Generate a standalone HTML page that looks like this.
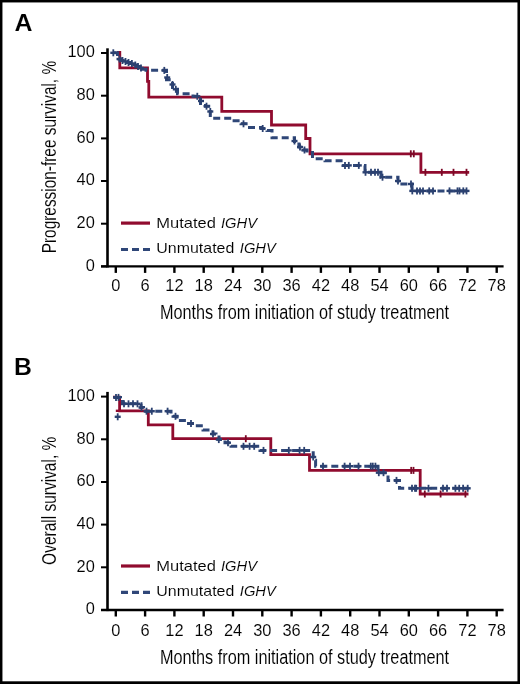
<!DOCTYPE html>
<html><head><meta charset="utf-8"><style>
html,body{margin:0;padding:0;background:#fff;}
svg{display:block;will-change:transform;}
text{font-family:"Liberation Sans", sans-serif;fill:#000;stroke:#fff;stroke-width:0.1px;}
.tl{font-size:16.4px;stroke-width:0.1px;}
.ttl{font-size:20px;}
.lg{font-size:15px;}
.let{font-size:23.6px;font-weight:bold;fill:#000;}
</style></head><body>
<svg width="520" height="684" viewBox="0 0 520 684">
<rect x="0" y="0" width="520" height="684" fill="#000"/>
<rect x="2.45" y="2.45" width="515.0" height="678.85" fill="#fff"/>
<line x1="107.5" y1="48.3" x2="107.5" y2="267.5" stroke="#000" stroke-width="2.6"/>
<line x1="101" y1="266.4" x2="503.6" y2="266.4" stroke="#000" stroke-width="2.3"/>
<line x1="101" y1="266.4" x2="107" y2="266.4" stroke="#000" stroke-width="2"/>
<text x="94.8" y="270.6" text-anchor="end" class="tl">0</text>
<line x1="101" y1="223.7" x2="107" y2="223.7" stroke="#000" stroke-width="2"/>
<text x="94.8" y="227.9" text-anchor="end" class="tl">20</text>
<line x1="101" y1="181.0" x2="107" y2="181.0" stroke="#000" stroke-width="2"/>
<text x="94.8" y="185.2" text-anchor="end" class="tl">40</text>
<line x1="101" y1="138.4" x2="107" y2="138.4" stroke="#000" stroke-width="2"/>
<text x="94.8" y="142.6" text-anchor="end" class="tl">60</text>
<line x1="101" y1="95.7" x2="107" y2="95.7" stroke="#000" stroke-width="2"/>
<text x="94.8" y="99.9" text-anchor="end" class="tl">80</text>
<line x1="101" y1="53.0" x2="107" y2="53.0" stroke="#000" stroke-width="2"/>
<text x="94.8" y="57.2" text-anchor="end" class="tl">100</text>
<line x1="115.80" y1="266.4" x2="115.80" y2="272.9" stroke="#000" stroke-width="2.4"/>
<text x="115.80" y="290.8" text-anchor="middle" class="tl">0</text>
<line x1="145.10" y1="266.4" x2="145.10" y2="272.9" stroke="#000" stroke-width="2.4"/>
<text x="145.10" y="290.8" text-anchor="middle" class="tl">6</text>
<line x1="174.40" y1="266.4" x2="174.40" y2="272.9" stroke="#000" stroke-width="2.4"/>
<text x="174.40" y="290.8" text-anchor="middle" class="tl">12</text>
<line x1="203.70" y1="266.4" x2="203.70" y2="272.9" stroke="#000" stroke-width="2.4"/>
<text x="203.70" y="290.8" text-anchor="middle" class="tl">18</text>
<line x1="233.00" y1="266.4" x2="233.00" y2="272.9" stroke="#000" stroke-width="2.4"/>
<text x="233.00" y="290.8" text-anchor="middle" class="tl">24</text>
<line x1="262.30" y1="266.4" x2="262.30" y2="272.9" stroke="#000" stroke-width="2.4"/>
<text x="262.30" y="290.8" text-anchor="middle" class="tl">30</text>
<line x1="291.60" y1="266.4" x2="291.60" y2="272.9" stroke="#000" stroke-width="2.4"/>
<text x="291.60" y="290.8" text-anchor="middle" class="tl">36</text>
<line x1="320.90" y1="266.4" x2="320.90" y2="272.9" stroke="#000" stroke-width="2.4"/>
<text x="320.90" y="290.8" text-anchor="middle" class="tl">42</text>
<line x1="350.20" y1="266.4" x2="350.20" y2="272.9" stroke="#000" stroke-width="2.4"/>
<text x="350.20" y="290.8" text-anchor="middle" class="tl">48</text>
<line x1="379.50" y1="266.4" x2="379.50" y2="272.9" stroke="#000" stroke-width="2.4"/>
<text x="379.50" y="290.8" text-anchor="middle" class="tl">54</text>
<line x1="408.80" y1="266.4" x2="408.80" y2="272.9" stroke="#000" stroke-width="2.4"/>
<text x="408.80" y="290.8" text-anchor="middle" class="tl">60</text>
<line x1="438.10" y1="266.4" x2="438.10" y2="272.9" stroke="#000" stroke-width="2.4"/>
<text x="438.10" y="290.8" text-anchor="middle" class="tl">66</text>
<line x1="467.40" y1="266.4" x2="467.40" y2="272.9" stroke="#000" stroke-width="2.4"/>
<text x="467.40" y="290.8" text-anchor="middle" class="tl">72</text>
<line x1="496.70" y1="266.4" x2="496.70" y2="272.9" stroke="#000" stroke-width="2.4"/>
<text x="496.70" y="290.8" text-anchor="middle" class="tl">78</text>
<text x="159.9" y="318.8" class="ttl" textLength="289.2" lengthAdjust="spacingAndGlyphs">Months from initiation of study treatment</text>
<text transform="translate(55.8 253.3) rotate(-90)" x="0" y="0" class="ttl" textLength="192.4" lengthAdjust="spacingAndGlyphs">Progression-free survival, %</text>
<text x="14.4" y="31.3" class="let" textLength="18.0" lengthAdjust="spacingAndGlyphs">A</text>
<line x1="121" y1="223.1" x2="150" y2="223.1" stroke="#900b2e" stroke-width="3.2"/>
<line x1="121" y1="249.5" x2="150" y2="249.5" stroke="#2f4778" stroke-width="3.2" stroke-dasharray="7 4"/>
<text x="156.3" y="228.2" class="lg" textLength="59.6" lengthAdjust="spacingAndGlyphs">Mutated</text>
<text x="221.0" y="228.2" class="lg" font-style="italic" textLength="36.0" lengthAdjust="spacingAndGlyphs">IGHV</text>
<text x="156.3" y="252.6" class="lg" textLength="78.0" lengthAdjust="spacingAndGlyphs">Unmutated</text>
<text x="239.8" y="252.6" class="lg" font-style="italic" textLength="36.0" lengthAdjust="spacingAndGlyphs">IGHV</text>
<line x1="107.5" y1="391.9" x2="107.5" y2="611.1" stroke="#000" stroke-width="2.6"/>
<line x1="101" y1="610.0" x2="503.6" y2="610.0" stroke="#000" stroke-width="2.3"/>
<line x1="101" y1="610.0" x2="107" y2="610.0" stroke="#000" stroke-width="2"/>
<text x="94.8" y="614.2" text-anchor="end" class="tl">0</text>
<line x1="101" y1="567.3" x2="107" y2="567.3" stroke="#000" stroke-width="2"/>
<text x="94.8" y="571.5" text-anchor="end" class="tl">20</text>
<line x1="101" y1="524.6" x2="107" y2="524.6" stroke="#000" stroke-width="2"/>
<text x="94.8" y="528.8" text-anchor="end" class="tl">40</text>
<line x1="101" y1="482.0" x2="107" y2="482.0" stroke="#000" stroke-width="2"/>
<text x="94.8" y="486.2" text-anchor="end" class="tl">60</text>
<line x1="101" y1="439.3" x2="107" y2="439.3" stroke="#000" stroke-width="2"/>
<text x="94.8" y="443.5" text-anchor="end" class="tl">80</text>
<line x1="101" y1="396.6" x2="107" y2="396.6" stroke="#000" stroke-width="2"/>
<text x="94.8" y="400.8" text-anchor="end" class="tl">100</text>
<line x1="115.80" y1="610.0" x2="115.80" y2="616.5" stroke="#000" stroke-width="2.4"/>
<text x="115.80" y="636.3" text-anchor="middle" class="tl">0</text>
<line x1="145.10" y1="610.0" x2="145.10" y2="616.5" stroke="#000" stroke-width="2.4"/>
<text x="145.10" y="636.3" text-anchor="middle" class="tl">6</text>
<line x1="174.40" y1="610.0" x2="174.40" y2="616.5" stroke="#000" stroke-width="2.4"/>
<text x="174.40" y="636.3" text-anchor="middle" class="tl">12</text>
<line x1="203.70" y1="610.0" x2="203.70" y2="616.5" stroke="#000" stroke-width="2.4"/>
<text x="203.70" y="636.3" text-anchor="middle" class="tl">18</text>
<line x1="233.00" y1="610.0" x2="233.00" y2="616.5" stroke="#000" stroke-width="2.4"/>
<text x="233.00" y="636.3" text-anchor="middle" class="tl">24</text>
<line x1="262.30" y1="610.0" x2="262.30" y2="616.5" stroke="#000" stroke-width="2.4"/>
<text x="262.30" y="636.3" text-anchor="middle" class="tl">30</text>
<line x1="291.60" y1="610.0" x2="291.60" y2="616.5" stroke="#000" stroke-width="2.4"/>
<text x="291.60" y="636.3" text-anchor="middle" class="tl">36</text>
<line x1="320.90" y1="610.0" x2="320.90" y2="616.5" stroke="#000" stroke-width="2.4"/>
<text x="320.90" y="636.3" text-anchor="middle" class="tl">42</text>
<line x1="350.20" y1="610.0" x2="350.20" y2="616.5" stroke="#000" stroke-width="2.4"/>
<text x="350.20" y="636.3" text-anchor="middle" class="tl">48</text>
<line x1="379.50" y1="610.0" x2="379.50" y2="616.5" stroke="#000" stroke-width="2.4"/>
<text x="379.50" y="636.3" text-anchor="middle" class="tl">54</text>
<line x1="408.80" y1="610.0" x2="408.80" y2="616.5" stroke="#000" stroke-width="2.4"/>
<text x="408.80" y="636.3" text-anchor="middle" class="tl">60</text>
<line x1="438.10" y1="610.0" x2="438.10" y2="616.5" stroke="#000" stroke-width="2.4"/>
<text x="438.10" y="636.3" text-anchor="middle" class="tl">66</text>
<line x1="467.40" y1="610.0" x2="467.40" y2="616.5" stroke="#000" stroke-width="2.4"/>
<text x="467.40" y="636.3" text-anchor="middle" class="tl">72</text>
<line x1="496.70" y1="610.0" x2="496.70" y2="616.5" stroke="#000" stroke-width="2.4"/>
<text x="496.70" y="636.3" text-anchor="middle" class="tl">78</text>
<text x="159.9" y="664.3" class="ttl" textLength="289.2" lengthAdjust="spacingAndGlyphs">Months from initiation of study treatment</text>
<text transform="translate(55.8 564.9) rotate(-90)" x="0" y="0" class="ttl" textLength="128.2" lengthAdjust="spacingAndGlyphs">Overall survival, %</text>
<text x="14.0" y="375.2" class="let" textLength="17.9" lengthAdjust="spacingAndGlyphs">B</text>
<line x1="121" y1="566.0" x2="150" y2="566.0" stroke="#900b2e" stroke-width="3.2"/>
<line x1="121" y1="592.4" x2="150" y2="592.4" stroke="#2f4778" stroke-width="3.2" stroke-dasharray="7 4"/>
<text x="156.3" y="571.1" class="lg" textLength="59.6" lengthAdjust="spacingAndGlyphs">Mutated</text>
<text x="221.0" y="571.1" class="lg" font-style="italic" textLength="36.0" lengthAdjust="spacingAndGlyphs">IGHV</text>
<text x="156.3" y="595.5" class="lg" textLength="78.0" lengthAdjust="spacingAndGlyphs">Unmutated</text>
<text x="239.8" y="595.5" class="lg" font-style="italic" textLength="36.0" lengthAdjust="spacingAndGlyphs">IGHV</text>
<path d="M117.0 52.5 H119.8 V67.9 H147.5 V81.3 H148.8 V97.1 H221.8 V111.3 H271.5 V125.0 H305.7 V138.5 H310.0 V153.8 H420.9 V172.3 H469.2" fill="none" stroke="#900b2e" stroke-width="2.8"/>
<path d="M110.0 52.8 H117.5 V57.5 H119.0 V59.0 H121.0 V60.5 H124.0 V61.5 H127.0 V62.5 H130.0 V63.5 H133.0 V65.0 H136.0 V66.5 H139.0 V68.0 H142.0 V69.3 H146.0 V70.3 H166.5 V79.7 H172.5 V89.3 H177.5 V93.8 H193.0 V96.3 H200.5 V103.5 H205.5 V106.2 H210.3 V118.2 H232.0 V120.8 H241.0 V123.8 H248.0 V127.4 H261.0 V128.5 H267.0 V130.5 H272.0 V137.7 H294.5 V144.0 H299.0 V147.0 H303.0 V150.0 H307.0 V152.5 H312.5 V158.7 H325.0 V160.8 H343.0 V165.4 H365.0 V172.3 H381.0 V177.2 H398.0 V184.0 H412.0 V190.9 H469.2" fill="none" stroke="#2f4778" stroke-width="3.0" stroke-dasharray="7 4" stroke-dashoffset="7.4"/>
<line x1="113.3" y1="49.3" x2="113.3" y2="56.3" stroke="#2b4170" stroke-width="1.8"/><line x1="110.3" y1="52.8" x2="116.3" y2="52.8" stroke="#2b4170" stroke-width="2.4"/><line x1="119.5" y1="55.5" x2="119.5" y2="62.5" stroke="#2b4170" stroke-width="1.8"/><line x1="116.5" y1="59.0" x2="122.5" y2="59.0" stroke="#2b4170" stroke-width="2.4"/><line x1="122.5" y1="57.0" x2="122.5" y2="64.0" stroke="#2b4170" stroke-width="1.8"/><line x1="119.5" y1="60.5" x2="125.5" y2="60.5" stroke="#2b4170" stroke-width="2.4"/><line x1="125.5" y1="58.0" x2="125.5" y2="65.0" stroke="#2b4170" stroke-width="1.8"/><line x1="122.5" y1="61.5" x2="128.5" y2="61.5" stroke="#2b4170" stroke-width="2.4"/><line x1="128.5" y1="59.0" x2="128.5" y2="66.0" stroke="#2b4170" stroke-width="1.8"/><line x1="125.5" y1="62.5" x2="131.5" y2="62.5" stroke="#2b4170" stroke-width="2.4"/><line x1="131.9" y1="60.0" x2="131.9" y2="67.0" stroke="#2b4170" stroke-width="1.8"/><line x1="128.9" y1="63.5" x2="134.9" y2="63.5" stroke="#2b4170" stroke-width="2.4"/><line x1="135.3" y1="61.5" x2="135.3" y2="68.5" stroke="#2b4170" stroke-width="1.8"/><line x1="132.3" y1="65.0" x2="138.3" y2="65.0" stroke="#2b4170" stroke-width="2.4"/><line x1="138.0" y1="63.0" x2="138.0" y2="70.0" stroke="#2b4170" stroke-width="1.8"/><line x1="135.0" y1="66.5" x2="141.0" y2="66.5" stroke="#2b4170" stroke-width="2.4"/><line x1="141.0" y1="64.5" x2="141.0" y2="71.5" stroke="#2b4170" stroke-width="1.8"/><line x1="138.0" y1="68.0" x2="144.0" y2="68.0" stroke="#2b4170" stroke-width="2.4"/><line x1="164.3" y1="66.9" x2="164.3" y2="73.9" stroke="#2b4170" stroke-width="1.8"/><line x1="161.3" y1="70.4" x2="167.3" y2="70.4" stroke="#2b4170" stroke-width="2.4"/><line x1="167.2" y1="74.0" x2="167.2" y2="81.0" stroke="#2b4170" stroke-width="1.8"/><line x1="164.2" y1="77.5" x2="170.2" y2="77.5" stroke="#2b4170" stroke-width="2.4"/><line x1="172.5" y1="81.0" x2="172.5" y2="88.0" stroke="#2b4170" stroke-width="1.8"/><line x1="169.5" y1="84.5" x2="175.5" y2="84.5" stroke="#2b4170" stroke-width="2.4"/><line x1="175.8" y1="85.8" x2="175.8" y2="92.8" stroke="#2b4170" stroke-width="1.8"/><line x1="172.8" y1="89.3" x2="178.8" y2="89.3" stroke="#2b4170" stroke-width="2.4"/><line x1="197.3" y1="92.8" x2="197.3" y2="99.8" stroke="#2b4170" stroke-width="1.8"/><line x1="194.3" y1="96.3" x2="200.3" y2="96.3" stroke="#2b4170" stroke-width="2.4"/><line x1="201.0" y1="97.5" x2="201.0" y2="104.5" stroke="#2b4170" stroke-width="1.8"/><line x1="198.0" y1="101.0" x2="204.0" y2="101.0" stroke="#2b4170" stroke-width="2.4"/><line x1="206.5" y1="102.7" x2="206.5" y2="109.7" stroke="#2b4170" stroke-width="1.8"/><line x1="203.5" y1="106.2" x2="209.5" y2="106.2" stroke="#2b4170" stroke-width="2.4"/><line x1="210.3" y1="108.0" x2="210.3" y2="115.0" stroke="#2b4170" stroke-width="1.8"/><line x1="207.3" y1="111.5" x2="213.3" y2="111.5" stroke="#2b4170" stroke-width="2.4"/><line x1="243.5" y1="120.3" x2="243.5" y2="127.3" stroke="#2b4170" stroke-width="1.8"/><line x1="240.5" y1="123.8" x2="246.5" y2="123.8" stroke="#2b4170" stroke-width="2.4"/><line x1="262.7" y1="125.0" x2="262.7" y2="132.0" stroke="#2b4170" stroke-width="1.8"/><line x1="259.7" y1="128.5" x2="265.7" y2="128.5" stroke="#2b4170" stroke-width="2.4"/><line x1="294.5" y1="137.5" x2="294.5" y2="144.5" stroke="#2b4170" stroke-width="1.8"/><line x1="291.5" y1="141.0" x2="297.5" y2="141.0" stroke="#2b4170" stroke-width="2.4"/><line x1="300.0" y1="143.5" x2="300.0" y2="150.5" stroke="#2b4170" stroke-width="1.8"/><line x1="297.0" y1="147.0" x2="303.0" y2="147.0" stroke="#2b4170" stroke-width="2.4"/><line x1="304.5" y1="146.5" x2="304.5" y2="153.5" stroke="#2b4170" stroke-width="1.8"/><line x1="301.5" y1="150.0" x2="307.5" y2="150.0" stroke="#2b4170" stroke-width="2.4"/><line x1="345.0" y1="161.9" x2="345.0" y2="168.9" stroke="#2b4170" stroke-width="1.8"/><line x1="342.0" y1="165.4" x2="348.0" y2="165.4" stroke="#2b4170" stroke-width="2.4"/><line x1="348.8" y1="161.9" x2="348.8" y2="168.9" stroke="#2b4170" stroke-width="1.8"/><line x1="345.8" y1="165.4" x2="351.8" y2="165.4" stroke="#2b4170" stroke-width="2.4"/><line x1="358.8" y1="161.9" x2="358.8" y2="168.9" stroke="#2b4170" stroke-width="1.8"/><line x1="355.8" y1="165.4" x2="361.8" y2="165.4" stroke="#2b4170" stroke-width="2.4"/><line x1="365.5" y1="168.8" x2="365.5" y2="175.8" stroke="#2b4170" stroke-width="1.8"/><line x1="362.5" y1="172.3" x2="368.5" y2="172.3" stroke="#2b4170" stroke-width="2.4"/><line x1="371.0" y1="168.8" x2="371.0" y2="175.8" stroke="#2b4170" stroke-width="1.8"/><line x1="368.0" y1="172.3" x2="374.0" y2="172.3" stroke="#2b4170" stroke-width="2.4"/><line x1="375.0" y1="168.8" x2="375.0" y2="175.8" stroke="#2b4170" stroke-width="1.8"/><line x1="372.0" y1="172.3" x2="378.0" y2="172.3" stroke="#2b4170" stroke-width="2.4"/><line x1="378.0" y1="168.8" x2="378.0" y2="175.8" stroke="#2b4170" stroke-width="1.8"/><line x1="375.0" y1="172.3" x2="381.0" y2="172.3" stroke="#2b4170" stroke-width="2.4"/><line x1="382.5" y1="173.7" x2="382.5" y2="180.7" stroke="#2b4170" stroke-width="1.8"/><line x1="379.5" y1="177.2" x2="385.5" y2="177.2" stroke="#2b4170" stroke-width="2.4"/><line x1="398.0" y1="177.5" x2="398.0" y2="184.5" stroke="#2b4170" stroke-width="1.8"/><line x1="395.0" y1="181.0" x2="401.0" y2="181.0" stroke="#2b4170" stroke-width="2.4"/><line x1="411.0" y1="180.5" x2="411.0" y2="187.5" stroke="#2b4170" stroke-width="1.8"/><line x1="408.0" y1="184.0" x2="414.0" y2="184.0" stroke="#2b4170" stroke-width="2.4"/><line x1="412.3" y1="187.4" x2="412.3" y2="194.4" stroke="#2b4170" stroke-width="1.8"/><line x1="409.3" y1="190.9" x2="415.3" y2="190.9" stroke="#2b4170" stroke-width="2.4"/><line x1="417.0" y1="187.4" x2="417.0" y2="194.4" stroke="#2b4170" stroke-width="1.8"/><line x1="414.0" y1="190.9" x2="420.0" y2="190.9" stroke="#2b4170" stroke-width="2.4"/><line x1="420.0" y1="187.4" x2="420.0" y2="194.4" stroke="#2b4170" stroke-width="1.8"/><line x1="417.0" y1="190.9" x2="423.0" y2="190.9" stroke="#2b4170" stroke-width="2.4"/><line x1="423.0" y1="187.4" x2="423.0" y2="194.4" stroke="#2b4170" stroke-width="1.8"/><line x1="420.0" y1="190.9" x2="426.0" y2="190.9" stroke="#2b4170" stroke-width="2.4"/><line x1="429.2" y1="187.4" x2="429.2" y2="194.4" stroke="#2b4170" stroke-width="1.8"/><line x1="426.2" y1="190.9" x2="432.2" y2="190.9" stroke="#2b4170" stroke-width="2.4"/><line x1="433.0" y1="187.4" x2="433.0" y2="194.4" stroke="#2b4170" stroke-width="1.8"/><line x1="430.0" y1="190.9" x2="436.0" y2="190.9" stroke="#2b4170" stroke-width="2.4"/><line x1="449.5" y1="187.4" x2="449.5" y2="194.4" stroke="#2b4170" stroke-width="1.8"/><line x1="446.5" y1="190.9" x2="452.5" y2="190.9" stroke="#2b4170" stroke-width="2.4"/><line x1="457.5" y1="187.4" x2="457.5" y2="194.4" stroke="#2b4170" stroke-width="1.8"/><line x1="454.5" y1="190.9" x2="460.5" y2="190.9" stroke="#2b4170" stroke-width="2.4"/><line x1="459.5" y1="187.4" x2="459.5" y2="194.4" stroke="#2b4170" stroke-width="1.8"/><line x1="456.5" y1="190.9" x2="462.5" y2="190.9" stroke="#2b4170" stroke-width="2.4"/><line x1="463.3" y1="187.4" x2="463.3" y2="194.4" stroke="#2b4170" stroke-width="1.8"/><line x1="460.3" y1="190.9" x2="466.3" y2="190.9" stroke="#2b4170" stroke-width="2.4"/><line x1="466.5" y1="187.4" x2="466.5" y2="194.4" stroke="#2b4170" stroke-width="1.8"/><line x1="463.5" y1="190.9" x2="469.5" y2="190.9" stroke="#2b4170" stroke-width="2.4"/>
<line x1="410.8" y1="150.3" x2="410.8" y2="157.3" stroke="#7a0826" stroke-width="1.8"/><line x1="413.8" y1="150.3" x2="413.8" y2="157.3" stroke="#7a0826" stroke-width="1.8"/><line x1="425.4" y1="168.8" x2="425.4" y2="175.8" stroke="#7a0826" stroke-width="1.8"/><line x1="441.8" y1="168.8" x2="441.8" y2="175.8" stroke="#7a0826" stroke-width="1.8"/><line x1="453.5" y1="168.8" x2="453.5" y2="175.8" stroke="#7a0826" stroke-width="1.8"/><line x1="466.5" y1="168.8" x2="466.5" y2="175.8" stroke="#7a0826" stroke-width="1.8"/>
<path d="M113.0 397.2 H119.6 V410.8 H148.3 V424.8 H172.8 V438.7 H270.8 V454.6 H309.5 V470.4 H420.2 V494.0 H468.5" fill="none" stroke="#900b2e" stroke-width="2.8"/>
<path d="M113.0 397.5 H120.5 V400.0 H122.5 V403.8 H141.0 V407.5 H143.5 V411.2 H171.0 V414.0 H173.0 V416.3 H177.0 V420.6 H187.0 V423.5 H194.0 V425.7 H203.0 V430.0 H210.0 V432.0 H213.0 V434.0 H216.0 V437.0 H219.0 V439.6 H225.0 V442.7 H231.0 V446.3 H260.0 V450.4 H313.2 V460.2 H315.6 V466.2 H378.0 V472.7 H388.0 V480.4 H399.5 V488.3 H468.5" fill="none" stroke="#2f4778" stroke-width="3.0" stroke-dasharray="7 4" stroke-dashoffset="10.0"/>
<line x1="116.0" y1="393.9" x2="116.0" y2="400.9" stroke="#2b4170" stroke-width="1.8"/><line x1="113.0" y1="397.4" x2="119.0" y2="397.4" stroke="#2b4170" stroke-width="2.4"/><line x1="118.5" y1="393.9" x2="118.5" y2="400.9" stroke="#2b4170" stroke-width="1.8"/><line x1="115.5" y1="397.4" x2="121.5" y2="397.4" stroke="#2b4170" stroke-width="2.4"/><line x1="124.0" y1="400.3" x2="124.0" y2="407.3" stroke="#2b4170" stroke-width="1.8"/><line x1="121.0" y1="403.8" x2="127.0" y2="403.8" stroke="#2b4170" stroke-width="2.4"/><line x1="128.5" y1="400.3" x2="128.5" y2="407.3" stroke="#2b4170" stroke-width="1.8"/><line x1="125.5" y1="403.8" x2="131.5" y2="403.8" stroke="#2b4170" stroke-width="2.4"/><line x1="133.0" y1="400.3" x2="133.0" y2="407.3" stroke="#2b4170" stroke-width="1.8"/><line x1="130.0" y1="403.8" x2="136.0" y2="403.8" stroke="#2b4170" stroke-width="2.4"/><line x1="137.5" y1="400.3" x2="137.5" y2="407.3" stroke="#2b4170" stroke-width="1.8"/><line x1="134.5" y1="403.8" x2="140.5" y2="403.8" stroke="#2b4170" stroke-width="2.4"/><line x1="141.5" y1="404.0" x2="141.5" y2="411.0" stroke="#2b4170" stroke-width="1.8"/><line x1="138.5" y1="407.5" x2="144.5" y2="407.5" stroke="#2b4170" stroke-width="2.4"/><line x1="146.5" y1="407.7" x2="146.5" y2="414.7" stroke="#2b4170" stroke-width="1.8"/><line x1="143.5" y1="411.2" x2="149.5" y2="411.2" stroke="#2b4170" stroke-width="2.4"/><line x1="151.8" y1="407.7" x2="151.8" y2="414.7" stroke="#2b4170" stroke-width="1.8"/><line x1="148.8" y1="411.2" x2="154.8" y2="411.2" stroke="#2b4170" stroke-width="2.4"/><line x1="167.6" y1="407.7" x2="167.6" y2="414.7" stroke="#2b4170" stroke-width="1.8"/><line x1="164.6" y1="411.2" x2="170.6" y2="411.2" stroke="#2b4170" stroke-width="2.4"/><line x1="175.5" y1="412.8" x2="175.5" y2="419.8" stroke="#2b4170" stroke-width="1.8"/><line x1="172.5" y1="416.3" x2="178.5" y2="416.3" stroke="#2b4170" stroke-width="2.4"/><line x1="191.0" y1="420.0" x2="191.0" y2="427.0" stroke="#2b4170" stroke-width="1.8"/><line x1="188.0" y1="423.5" x2="194.0" y2="423.5" stroke="#2b4170" stroke-width="2.4"/><line x1="213.0" y1="430.5" x2="213.0" y2="437.5" stroke="#2b4170" stroke-width="1.8"/><line x1="210.0" y1="434.0" x2="216.0" y2="434.0" stroke="#2b4170" stroke-width="2.4"/><line x1="218.8" y1="436.1" x2="218.8" y2="443.1" stroke="#2b4170" stroke-width="1.8"/><line x1="215.8" y1="439.6" x2="221.8" y2="439.6" stroke="#2b4170" stroke-width="2.4"/><line x1="228.0" y1="439.2" x2="228.0" y2="446.2" stroke="#2b4170" stroke-width="1.8"/><line x1="225.0" y1="442.7" x2="231.0" y2="442.7" stroke="#2b4170" stroke-width="2.4"/><line x1="243.5" y1="442.8" x2="243.5" y2="449.8" stroke="#2b4170" stroke-width="1.8"/><line x1="240.5" y1="446.3" x2="246.5" y2="446.3" stroke="#2b4170" stroke-width="2.4"/><line x1="249.6" y1="442.8" x2="249.6" y2="449.8" stroke="#2b4170" stroke-width="1.8"/><line x1="246.6" y1="446.3" x2="252.6" y2="446.3" stroke="#2b4170" stroke-width="2.4"/><line x1="254.2" y1="442.8" x2="254.2" y2="449.8" stroke="#2b4170" stroke-width="1.8"/><line x1="251.2" y1="446.3" x2="257.2" y2="446.3" stroke="#2b4170" stroke-width="2.4"/><line x1="263.5" y1="446.9" x2="263.5" y2="453.9" stroke="#2b4170" stroke-width="1.8"/><line x1="260.5" y1="450.4" x2="266.5" y2="450.4" stroke="#2b4170" stroke-width="2.4"/><line x1="288.8" y1="446.9" x2="288.8" y2="453.9" stroke="#2b4170" stroke-width="1.8"/><line x1="285.8" y1="450.4" x2="291.8" y2="450.4" stroke="#2b4170" stroke-width="2.4"/><line x1="299.6" y1="446.9" x2="299.6" y2="453.9" stroke="#2b4170" stroke-width="1.8"/><line x1="296.6" y1="450.4" x2="302.6" y2="450.4" stroke="#2b4170" stroke-width="2.4"/><line x1="304.2" y1="446.9" x2="304.2" y2="453.9" stroke="#2b4170" stroke-width="1.8"/><line x1="301.2" y1="450.4" x2="307.2" y2="450.4" stroke="#2b4170" stroke-width="2.4"/><line x1="313.2" y1="453.5" x2="313.2" y2="460.5" stroke="#2b4170" stroke-width="1.8"/><line x1="310.2" y1="457.0" x2="316.2" y2="457.0" stroke="#2b4170" stroke-width="2.4"/><line x1="323.0" y1="462.7" x2="323.0" y2="469.7" stroke="#2b4170" stroke-width="1.8"/><line x1="320.0" y1="466.2" x2="326.0" y2="466.2" stroke="#2b4170" stroke-width="2.4"/><line x1="344.6" y1="462.7" x2="344.6" y2="469.7" stroke="#2b4170" stroke-width="1.8"/><line x1="341.6" y1="466.2" x2="347.6" y2="466.2" stroke="#2b4170" stroke-width="2.4"/><line x1="350.0" y1="462.7" x2="350.0" y2="469.7" stroke="#2b4170" stroke-width="1.8"/><line x1="347.0" y1="466.2" x2="353.0" y2="466.2" stroke="#2b4170" stroke-width="2.4"/><line x1="358.5" y1="462.7" x2="358.5" y2="469.7" stroke="#2b4170" stroke-width="1.8"/><line x1="355.5" y1="466.2" x2="361.5" y2="466.2" stroke="#2b4170" stroke-width="2.4"/><line x1="370.8" y1="462.7" x2="370.8" y2="469.7" stroke="#2b4170" stroke-width="1.8"/><line x1="367.8" y1="466.2" x2="373.8" y2="466.2" stroke="#2b4170" stroke-width="2.4"/><line x1="372.8" y1="462.7" x2="372.8" y2="469.7" stroke="#2b4170" stroke-width="1.8"/><line x1="369.8" y1="466.2" x2="375.8" y2="466.2" stroke="#2b4170" stroke-width="2.4"/><line x1="375.4" y1="462.7" x2="375.4" y2="469.7" stroke="#2b4170" stroke-width="1.8"/><line x1="372.4" y1="466.2" x2="378.4" y2="466.2" stroke="#2b4170" stroke-width="2.4"/><line x1="378.8" y1="469.2" x2="378.8" y2="476.2" stroke="#2b4170" stroke-width="1.8"/><line x1="375.8" y1="472.7" x2="381.8" y2="472.7" stroke="#2b4170" stroke-width="2.4"/><line x1="383.5" y1="469.2" x2="383.5" y2="476.2" stroke="#2b4170" stroke-width="1.8"/><line x1="380.5" y1="472.7" x2="386.5" y2="472.7" stroke="#2b4170" stroke-width="2.4"/><line x1="396.5" y1="476.9" x2="396.5" y2="483.9" stroke="#2b4170" stroke-width="1.8"/><line x1="393.5" y1="480.4" x2="399.5" y2="480.4" stroke="#2b4170" stroke-width="2.4"/><line x1="412.0" y1="484.8" x2="412.0" y2="491.8" stroke="#2b4170" stroke-width="1.8"/><line x1="409.0" y1="488.3" x2="415.0" y2="488.3" stroke="#2b4170" stroke-width="2.4"/><line x1="415.0" y1="484.8" x2="415.0" y2="491.8" stroke="#2b4170" stroke-width="1.8"/><line x1="412.0" y1="488.3" x2="418.0" y2="488.3" stroke="#2b4170" stroke-width="2.4"/><line x1="416.2" y1="484.8" x2="416.2" y2="491.8" stroke="#2b4170" stroke-width="1.8"/><line x1="413.2" y1="488.3" x2="419.2" y2="488.3" stroke="#2b4170" stroke-width="2.4"/><line x1="428.5" y1="484.8" x2="428.5" y2="491.8" stroke="#2b4170" stroke-width="1.8"/><line x1="425.5" y1="488.3" x2="431.5" y2="488.3" stroke="#2b4170" stroke-width="2.4"/><line x1="443.0" y1="484.8" x2="443.0" y2="491.8" stroke="#2b4170" stroke-width="1.8"/><line x1="440.0" y1="488.3" x2="446.0" y2="488.3" stroke="#2b4170" stroke-width="2.4"/><line x1="447.0" y1="484.8" x2="447.0" y2="491.8" stroke="#2b4170" stroke-width="1.8"/><line x1="444.0" y1="488.3" x2="450.0" y2="488.3" stroke="#2b4170" stroke-width="2.4"/><line x1="455.4" y1="484.8" x2="455.4" y2="491.8" stroke="#2b4170" stroke-width="1.8"/><line x1="452.4" y1="488.3" x2="458.4" y2="488.3" stroke="#2b4170" stroke-width="2.4"/><line x1="459.2" y1="484.8" x2="459.2" y2="491.8" stroke="#2b4170" stroke-width="1.8"/><line x1="456.2" y1="488.3" x2="462.2" y2="488.3" stroke="#2b4170" stroke-width="2.4"/><line x1="463.1" y1="484.8" x2="463.1" y2="491.8" stroke="#2b4170" stroke-width="1.8"/><line x1="460.1" y1="488.3" x2="466.1" y2="488.3" stroke="#2b4170" stroke-width="2.4"/><line x1="467.7" y1="484.8" x2="467.7" y2="491.8" stroke="#2b4170" stroke-width="1.8"/><line x1="464.7" y1="488.3" x2="470.7" y2="488.3" stroke="#2b4170" stroke-width="2.4"/><line x1="117.7" y1="413.3" x2="117.7" y2="420.3" stroke="#2b4170" stroke-width="1.8"/><line x1="114.7" y1="416.8" x2="120.7" y2="416.8" stroke="#2b4170" stroke-width="2.4"/>
<line x1="115.8" y1="410.8" x2="120" y2="410.8" stroke="#900b2e" stroke-width="2.4"/><line x1="245.8" y1="435.2" x2="245.8" y2="442.2" stroke="#7a0826" stroke-width="1.8"/><line x1="411.2" y1="466.9" x2="411.2" y2="473.9" stroke="#7a0826" stroke-width="1.8"/><line x1="413.5" y1="466.9" x2="413.5" y2="473.9" stroke="#7a0826" stroke-width="1.8"/><line x1="424.8" y1="490.5" x2="424.8" y2="497.5" stroke="#7a0826" stroke-width="1.8"/><line x1="440.6" y1="490.5" x2="440.6" y2="497.5" stroke="#7a0826" stroke-width="1.8"/><line x1="465.4" y1="490.5" x2="465.4" y2="497.5" stroke="#7a0826" stroke-width="1.8"/>
</svg>
</body></html>
